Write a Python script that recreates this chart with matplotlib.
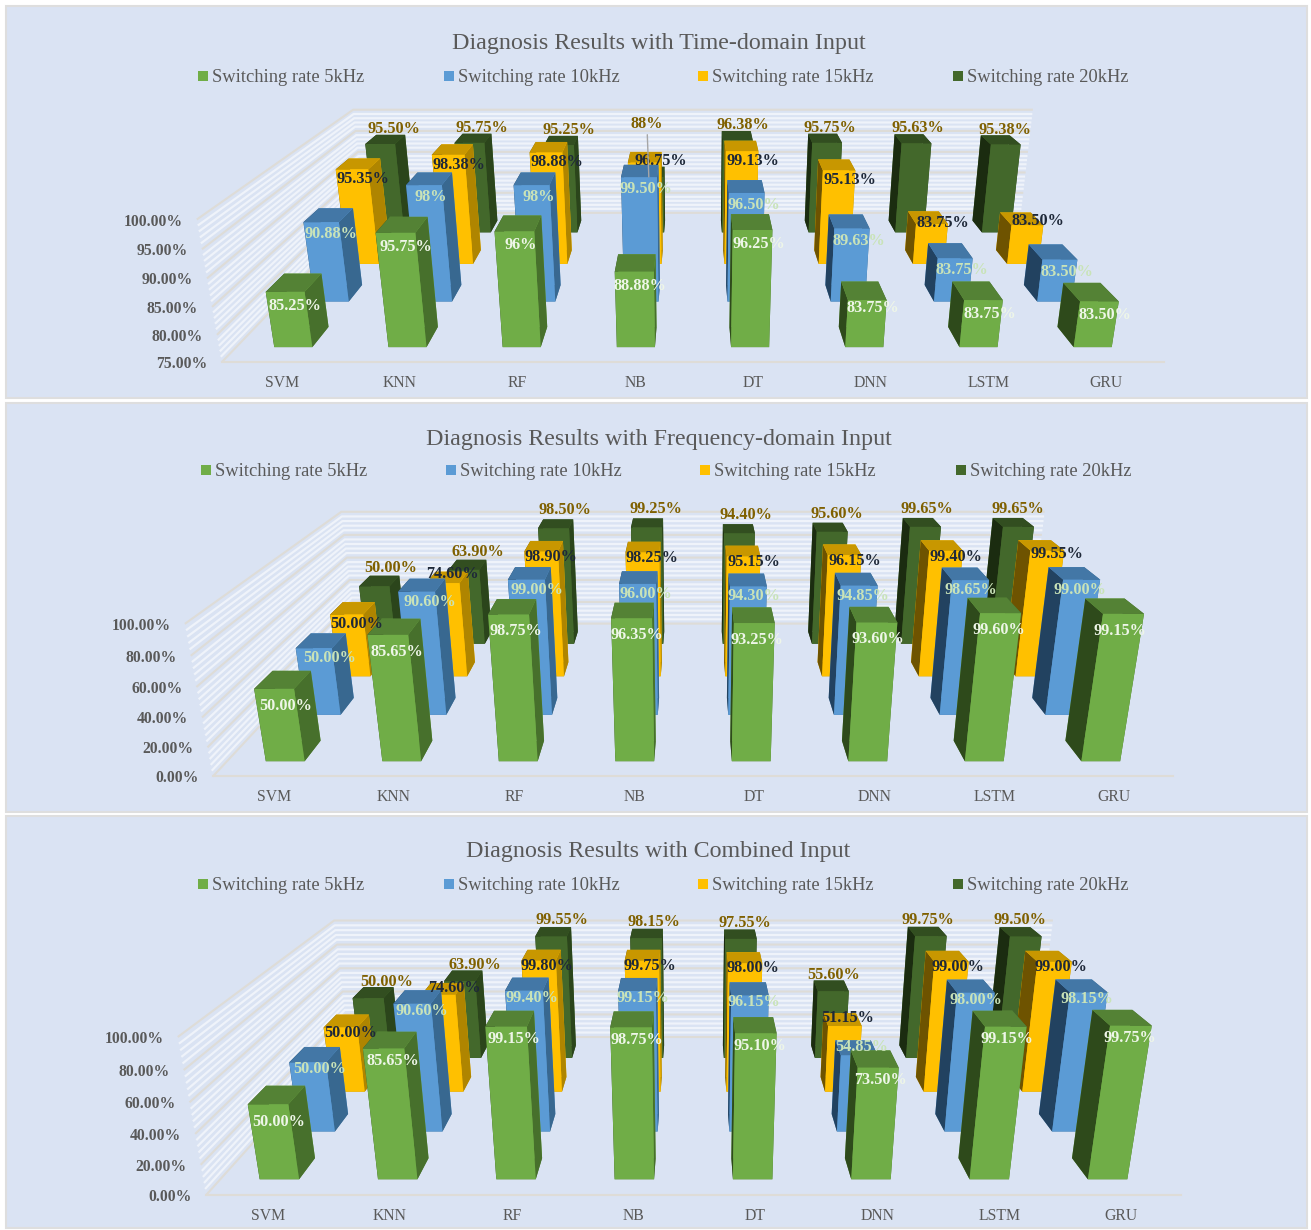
import numpy as np
import matplotlib
matplotlib.use("Agg")
import matplotlib.pyplot as plt
from matplotlib.patches import Rectangle
from mpl_toolkits.mplot3d import proj3d

plt.rcParams["font.family"] = ["Liberation Serif", "DejaVu Serif"]

FIG_W, FIG_H = 1311, 1230

categories = ["SVM", "KNN", "RF", "NB", "DT", "DNN", "LSTM", "GRU"]
series_names = ["Switching rate 5kHz", "Switching rate 10kHz",
                "Switching rate 15kHz", "Switching rate 20kHz"]

time_5k = [85.25, 95.75, 96, 88.88, 96.25, 83.75, 83.75, 83.50]
time_10k = [90.88, 98, 98, 99.50, 96.50, 89.63, 83.75, 83.50]
time_15k = [95.35, 98.38, 98.88, 96.75, 99.13, 95.13, 83.75, 83.50]
time_20k = [95.50, 95.75, 95.25, 88, 96.38, 95.75, 95.63, 95.38]

freq_5k = [50.00, 85.65, 98.75, 96.35, 93.25, 93.60, 99.60, 99.15]
freq_10k = [50.00, 90.60, 99.00, 96.00, 94.30, 94.85, 98.65, 99.00]
freq_15k = [50.00, 74.60, 98.90, 98.25, 95.15, 96.15, 99.40, 99.55]
freq_20k = [50.00, 63.90, 98.50, 99.25, 94.40, 95.60, 99.65, 99.65]

comb_5k = [50.00, 85.65, 99.15, 98.75, 95.10, 73.50, 99.15, 99.75]
comb_10k = [50.00, 90.60, 99.40, 99.15, 96.15, 54.85, 98.00, 98.15]
comb_15k = [50.00, 74.60, 99.80, 99.75, 98.00, 51.15, 99.00, 99.00]
comb_20k = [50.00, 63.90, 99.55, 98.15, 97.55, 55.60, 99.75, 99.50]

TEXT_GREY = "#595959"
PANEL_FILL = "#DAE3F3"
PANEL_EDGE = "#DEDEDE"
GRID_MAJOR = "#DEDCD7"
GRID_MINOR = "#EFF3FA"

# colours per series: front, top, +x side, -x side
FACE_COLOURS = [
    ("#70AD47", "#548235", "#47702C", "#2E4A1B"),
    ("#5B9BD5", "#4377A6", "#386890", "#224260"),
    ("#FFC000", "#C89700", "#AF8500", "#6E5300"),
    ("#43682B", "#324E20", "#2B451B", "#1B2C10"),
]
LABEL_COLOURS = ["#EEF6E8", "#C9E3B8", "#1E2838", "#7F6000"]

BAR_WIDTH = 1 / 3
BAR_DEPTH = 0.42
ROW_MARGIN = 0.29
AXES_SIZE = 1500
ORIGIN_FRACTION = 0.095 / 0.185
BOX_NORM = 1.8294640721620434 * 25 / 24


def px_rect(x0, y0, x1, y1, **kw):
    fig.add_artist(Rectangle((x0 / FIG_W, 1 - y1 / FIG_H), (x1 - x0) / FIG_W,
                             (y1 - y0) / FIG_H, transform=fig.transFigure, **kw))


def fig_text(x, y, s, **kw):
    fig.text(x / FIG_W, 1 - y / FIG_H, s, color=TEXT_GREY, va="center", **kw)


def make_axes(center, elev, focal_px, half_w, half_d, half_h):
    """Perspective axes whose box centre lands on a given pixel."""
    focal = 0.185 * focal_px / AXES_SIZE
    dist = 10 * focal
    aspect = np.array([half_w, half_d, half_h]) * 2 * dist
    left = center[0] - ORIGIN_FRACTION * AXES_SIZE
    bottom = FIG_H - center[1] - ORIGIN_FRACTION * AXES_SIZE
    ax = fig.add_axes([left / FIG_W, bottom / FIG_H, AXES_SIZE / FIG_W, AXES_SIZE / FIG_H],
                      projection="3d", computed_zorder=False)
    ax.set_proj_type("persp", focal_length=focal)
    ax.view_init(elev=elev, azim=-90, roll=0)
    ax.set_box_aspect(aspect, zoom=np.linalg.norm(aspect) / BOX_NORM)
    ax.set_axis_off()
    ax.patch.set_visible(False)
    return ax


def value_label(v, short_ints):
    if short_ints and float(v).is_integer():
        return f"{int(v)}%"
    return f"{v:.2f}%"


def draw_chart(ax, series, zmin, zmax, major, label_offsets, label_shifts,
               short_ints=False, leader=None, cat_drop=21):
    n_cat, n_row = len(categories), len(series)
    xs, ys, zs, dz, colours = [], [], [], [], []
    for k, row in enumerate(series):
        front, top, side_pos, side_neg = FACE_COLOURS[k]
        for i, v in enumerate(row):
            xs.append(i + 0.5 - BAR_WIDTH / 2)
            ys.append(k + ROW_MARGIN)
            zs.append(zmin)
            dz.append(v - zmin)
            # bar3d face order: -z, +z, -y, +y, -x, +x
            colours += [top, top, front, front, side_neg, side_pos]
    ax.bar3d(xs, ys, zs, BAR_WIDTH, BAR_DEPTH, dz, color=colours, shade=False,
             edgecolor="none", zorder=1)

    # Wall gridlines: five stripes per major step along the left and back walls
    minor = major / 5
    for z in np.arange(zmin, zmax + minor / 2, minor):
        is_major = abs((z - zmin) / major - round((z - zmin) / major)) < 1e-6
        colour = GRID_MAJOR if is_major else GRID_MINOR
        lw = 1.5 if is_major else 1.6
        ax.plot([0, 0, n_cat], [0, n_row, n_row], [z, z, z], color=colour, lw=lw,
                zorder=0.6 if is_major else 0.5, solid_capstyle="butt")
    ax.plot([0, n_cat], [0, 0], [zmin, zmin], color=GRID_MAJOR, lw=1.5, zorder=0.6)

    ax.set_xlim(0, n_cat)
    ax.set_ylim(0, n_row)
    ax.set_zlim(zmin, zmax)
    proj = ax.get_proj()

    def to_2d(x, y, z):
        px, py, _ = proj3d.proj_transform(x, y, z, proj)
        return float(px), float(py)

    for z in np.arange(zmin, zmax + major / 2, major):
        ax.annotate(f"{z:.2f}%", to_2d(0, 0, z), xytext=(-14, -2), textcoords="offset pixels",
                    ha="right", va="center", fontsize=11.3, fontweight="bold",
                    color=TEXT_GREY, annotation_clip=False)
    for i, name in enumerate(categories):
        ax.annotate(name, to_2d(i + 0.5, 0, zmin), xytext=(1, -cat_drop), textcoords="offset pixels",
                    ha="center", va="center", fontsize=11.3, color=TEXT_GREY,
                    annotation_clip=False)
    for k, row in enumerate(series):
        base_dx, slope_dx, base_dy = label_offsets[k]
        for i, v in enumerate(row):
            sx, sy = label_shifts.get((k, i), (0, 0))
            props = {}
            if (k, i) == leader:
                props = dict(arrowprops=dict(arrowstyle="-", color="#A6A6A6", lw=1,
                                             shrinkA=0, shrinkB=0))
            ax.annotate(value_label(v, short_ints), to_2d(i + 0.5, k + ROW_MARGIN, v),
                        xytext=(base_dx + slope_dx * (i - 3.5) + sx, base_dy + sy),
                        textcoords="offset pixels", ha="center", va="center",
                        fontsize=11.7, fontweight="bold", color=LABEL_COLOURS[k],
                        annotation_clip=False, zorder=5, **props)


def draw_legend(y, marker_xs):
    for k, name in enumerate(series_names):
        x = marker_xs[k]
        px_rect(x, y - 5, x + 10, y + 5, facecolor=FACE_COLOURS[k][0], edgecolor="none", zorder=-1)
        fig_text(x + 14, y + 2, name, ha="left", fontsize=13.35)


fig = plt.figure(figsize=(FIG_W / 100, FIG_H / 100), dpi=100, facecolor="white")

# Panel backgrounds
for y0, y1 in [(6, 398), (403, 812), (816, 1228)]:
    px_rect(6, y0, 1307, y1, facecolor=PANEL_FILL, edgecolor=PANEL_EDGE, linewidth=1.5, zorder=-2)

# Time-domain chart
fig_text(658.5, 43, "Diagnosis Results with Time-domain Input", ha="center", fontsize=17.3)
draw_legend(76, [198, 444, 698, 953])
ax1 = make_axes((693, 215.5), 19.2, 989, 0.3993, 0.1939, 0.0641)
draw_chart(ax1, [time_5k, time_10k, time_15k, time_20k], 75, 100, 5,
           [(6, 0, -14), (7, 0, -12), (11, 0, -10), (6.5, -2.2, 15)],
           {(0, 0): (4, 0), (0, 1): (4, 0), (0, 5): (0, 6), (1, 0): (3, 0),
            (2, 3): (6, 12), (2, 6): (0, 11), (2, 7): (0, 14), (3, 3): (-9.5, 38)},
           short_ints=True, leader=(3, 3), cat_drop=20.5)

# Frequency-domain chart
fig_text(658.5, 439, "Diagnosis Results with Frequency-domain Input", ha="center", fontsize=17.3)
draw_legend(470, [201, 446, 700, 956])
ax2 = make_axes((693, 623.7), 19.9, 1005, 0.404, 0.189, 0.0683)
draw_chart(ax2, [freq_5k, freq_10k, freq_15k, freq_20k], 0, 100, 20,
           [(4, -2.2, -17), (7, -2.5, -10), (10, 0, -6), (8, -2.5, 18)],
           {(2, 0): (0, -3), (2, 1): (0, 15), (2, 7): (0, 3)})

# Combined-input chart
fig_text(658, 851, "Diagnosis Results with Combined Input", ha="center", fontsize=17.3)
draw_legend(884, [198, 444, 698, 953])
ax3 = make_axes((693.5, 1037), 20.1, 1050, 0.394, 0.1858, 0.068)
draw_chart(ax3, [comb_5k, comb_10k, comb_15k, comb_20k], 0, 100, 20,
           [(5, -1.7, -12.5), (5, -2, -7), (8, -0.5, -5), (6, -3.5, 16)],
           {(0, 0): (0, -5), (1, 5): (0, 15), (2, 1): (7, 12), (2, 5): (-4, 13)})

fig.savefig("out.png", dpi=100)
